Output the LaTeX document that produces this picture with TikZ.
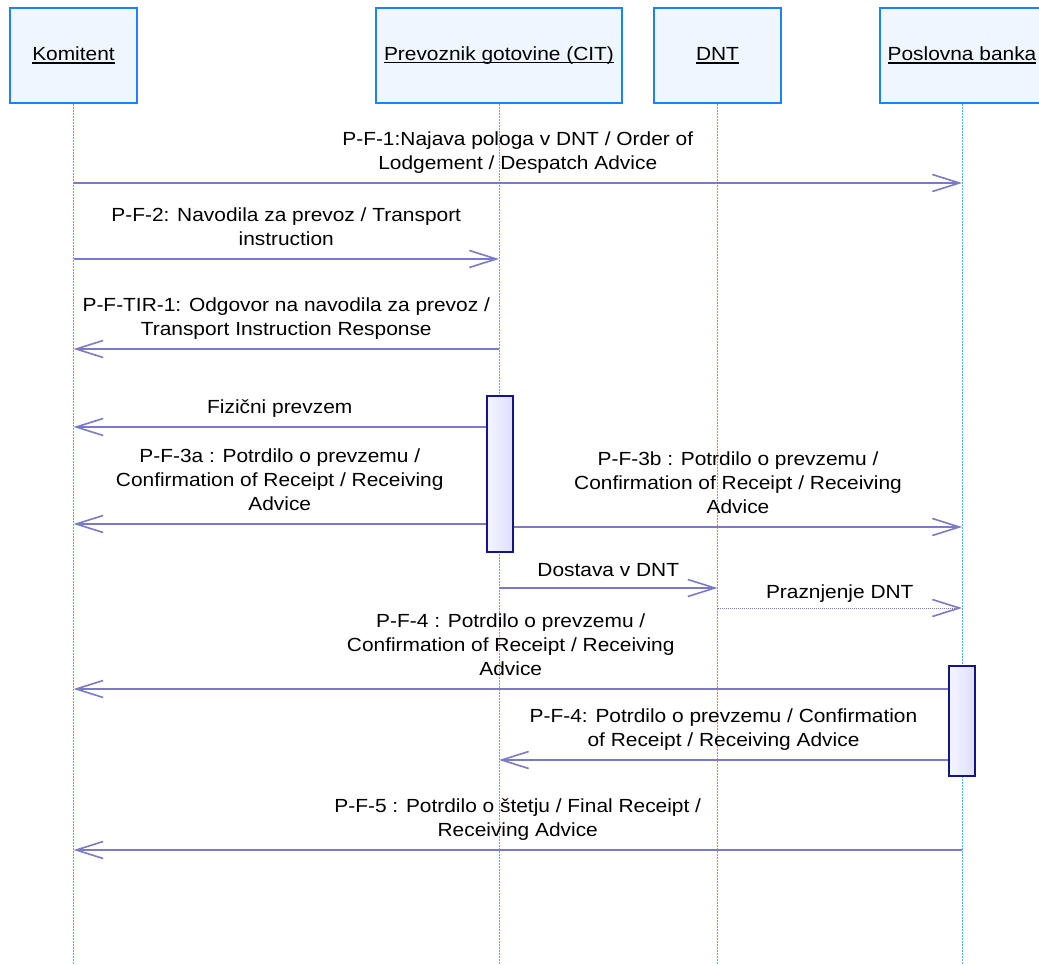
\documentclass[tikz,border=0pt]{standalone}
\usepackage{fontspec}
\setmainfont{Liberation Sans}[FakeStretch=1.1]
\usetikzlibrary{arrows.meta}

\definecolor{headblue}{RGB}{25,130,255}
\definecolor{headfill}{RGB}{238,247,255}
\definecolor{lifeblue}{RGB}{85,170,255}
\definecolor{msgcol}{RGB}{122,122,200}
\definecolor{actdraw}{RGB}{20,20,140}
\definecolor{actfill}{RGB}{222,222,255}

% underline at a fixed depth, under the baseline
\newcommand{\ulhead}[1]{\setbox0\hbox{#1}\rlap{\rule[-3pt]{\wd0}{1.5pt}}\box0}

\tikzset{
  head/.style={draw=headblue, line width=2pt, fill=headfill, minimum height=95pt, inner sep=0pt, font=\fontsize{19}{24}\selectfont},
  life/.style={draw=lifeblue, line width=1pt, dash pattern=on 2pt off 1pt},
  msg/.style={draw=msgcol, line width=1.6pt, -{Straight Barb[length=27pt, width=17pt, line width=1.6pt]}},
  lbl/.style={anchor=south, yshift=13pt, inner sep=0pt, align=center, text depth=0pt, font=\fontsize{19}{24}\selectfont},
  act/.style={draw=actdraw, line width=2pt, left color=actfill!30!white, right color=actfill, minimum width=26pt, inner sep=0pt}
}

\begin{document}
\begin{tikzpicture}[x=1pt, y=-1pt]
  % Fix the page to the size of the reference
  \useasboundingbox (0,0) rectangle (1039,965);

  % Heads of the lifelines
  \node[head, minimum width=127pt] (komitent) at (73.5,55.5) {\ulhead{Komitent}};
  \node[head, minimum width=246pt] (cit) at (499,55.5) {\ulhead{Prevoznik gotovine (CIT)}};
  \node[head, minimum width=127pt] (dnt) at (717.5,55.5) {\ulhead{DNT}};
  \node[head, minimum width=164pt] (banka) at (962,55.5) {\ulhead{Poslovna banka}};

  % Lifelines down to the bottom
  \coordinate (bottom) at (0,965);
  \draw[life] (komitent.south) -- (komitent |- bottom);
  \draw[life] (cit.south) -- (cit |- bottom);
  \draw[life] (dnt.south) -- (dnt |- bottom);
  \draw[life] (banka.south) -- (banka |- bottom);

  % Activation boxes
  \node[act, minimum height=156pt] (act1) at (500,474) {};
  \node[act, minimum height=110pt] (act2) at (962,721) {};

  % Messages
  \draw[msg] (komitent |- 0,183) -- node[lbl] {P-F-1:Najava pologa v DNT / Order of\\Lodgement / Despatch Advice} (banka |- 0,183);
  \draw[msg] (komitent |- 0,259) -- node[lbl] {P-F-2: Navodila za prevoz / Transport\\instruction} (cit |- 0,259);
  \draw[msg] (cit |- 0,349) -- node[lbl] {P-F-TIR-1: Odgovor na navodila za prevoz /\\Transport Instruction Response} (komitent |- 0,349);
  \draw[msg] (act1.west |- 0,427) -- node[lbl] {Fizični prevzem} (komitent |- 0,427);
  \draw[msg] (act1.west |- 0,524) -- node[lbl] {P-F-3a : Potrdilo o prevzemu /\\Confirmation of Receipt / Receiving\\Advice} (komitent |- 0,524);
  \draw[msg] (act1.east |- 0,527) -- node[lbl] {P-F-3b : Potrdilo o prevzemu /\\Confirmation of Receipt / Receiving\\Advice} (banka |- 0,527);
  \draw[msg] (cit |- 0,588) -- node[lbl, yshift=-2pt] {Dostava v DNT} (dnt |- 0,588);
  \draw[msg, line width=0.9pt, dash pattern=on 1pt off 1pt] (dnt |- 0,608) -- node[lbl, yshift=-4pt] {Praznjenje DNT} (banka |- 0,608);
  \draw[msg] (act2.west |- 0,689) -- node[lbl] {P-F-4 : Potrdilo o prevzemu /\\Confirmation of Receipt / Receiving\\Advice} (komitent |- 0,689);
  \draw[msg] (act2.west |- 0,760) -- node[lbl] {P-F-4: Potrdilo o prevzemu / Confirmation\\of Receipt / Receiving Advice} (cit |- 0,760);
  \draw[msg] (banka |- 0,850) -- node[lbl] {P-F-5 : Potrdilo o štetju / Final Receipt /\\Receiving Advice} (komitent |- 0,850);
\end{tikzpicture}
\end{document}
